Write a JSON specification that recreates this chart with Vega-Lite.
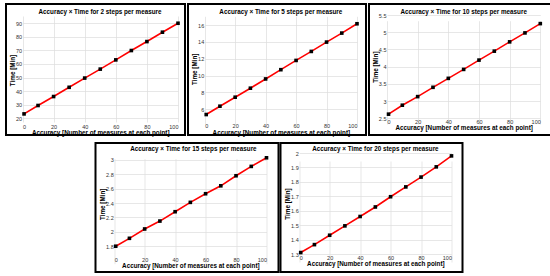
{
  "$schema": "https://vega.github.io/schema/vega-lite/v6.json",
  "padding": {"left": 5, "top": 3, "right": 0, "bottom": 0},
  "background": "white",
  "data": {"values": [
    {"panel": "a", "acc": 1, "time": 23.2}, {"panel": "a", "acc": 10, "time": 29.4}, {"panel": "a", "acc": 20, "time": 36.0}, {"panel": "a", "acc": 30, "time": 42.8}, {"panel": "a", "acc": 40, "time": 49.6}, {"panel": "a", "acc": 50, "time": 56.2}, {"panel": "a", "acc": 60, "time": 63.0}, {"panel": "a", "acc": 70, "time": 69.9}, {"panel": "a", "acc": 80, "time": 76.5}, {"panel": "a", "acc": 90, "time": 83.4}, {"panel": "a", "acc": 100, "time": 90.0},
    {"panel": "b", "acc": 1, "time": 5.37}, {"panel": "b", "acc": 10, "time": 6.36}, {"panel": "b", "acc": 20, "time": 7.43}, {"panel": "b", "acc": 30, "time": 8.5}, {"panel": "b", "acc": 40, "time": 9.6}, {"panel": "b", "acc": 50, "time": 10.7}, {"panel": "b", "acc": 60, "time": 11.8}, {"panel": "b", "acc": 70, "time": 12.87}, {"panel": "b", "acc": 80, "time": 13.98}, {"panel": "b", "acc": 90, "time": 15.05}, {"panel": "b", "acc": 100, "time": 16.16},
    {"panel": "c", "acc": 1, "time": 2.62}, {"panel": "c", "acc": 10, "time": 2.88}, {"panel": "c", "acc": 20, "time": 3.13}, {"panel": "c", "acc": 30, "time": 3.40}, {"panel": "c", "acc": 40, "time": 3.66}, {"panel": "c", "acc": 50, "time": 3.92}, {"panel": "c", "acc": 60, "time": 4.19}, {"panel": "c", "acc": 70, "time": 4.45}, {"panel": "c", "acc": 80, "time": 4.72}, {"panel": "c", "acc": 90, "time": 4.98}, {"panel": "c", "acc": 100, "time": 5.25},
    {"panel": "d", "acc": 1, "time": 1.80}, {"panel": "d", "acc": 10, "time": 1.91}, {"panel": "d", "acc": 20, "time": 2.04}, {"panel": "d", "acc": 30, "time": 2.15}, {"panel": "d", "acc": 40, "time": 2.28}, {"panel": "d", "acc": 50, "time": 2.41}, {"panel": "d", "acc": 60, "time": 2.53}, {"panel": "d", "acc": 70, "time": 2.64}, {"panel": "d", "acc": 80, "time": 2.78}, {"panel": "d", "acc": 90, "time": 2.91}, {"panel": "d", "acc": 100, "time": 3.03},
    {"panel": "e", "acc": 1, "time": 1.31}, {"panel": "e", "acc": 10, "time": 1.365}, {"panel": "e", "acc": 20, "time": 1.43}, {"panel": "e", "acc": 30, "time": 1.495}, {"panel": "e", "acc": 40, "time": 1.56}, {"panel": "e", "acc": 50, "time": 1.626}, {"panel": "e", "acc": 60, "time": 1.697}, {"panel": "e", "acc": 70, "time": 1.765}, {"panel": "e", "acc": 80, "time": 1.833}, {"panel": "e", "acc": 90, "time": 1.904}, {"panel": "e", "acc": 100, "time": 1.98}
  ]},
  "vconcat": [
    {
      "hconcat": [
        {
          "width": 179, "height": 131,
          "title": {"text": "Accuracy × Time for 2 steps per measure", "offset": -11, "dx": 4.5},
          "encoding": {
            "x": {"field": "acc", "type": "quantitative", "scale": {"domain": [0, 100], "range": [16.5, 172]}, "axis": {"values": [0, 20, 40, 60, 80, 100], "offset": -12, "title": "Accuracy [Number of measures at each point]"}},
            "y": {"field": "time", "type": "quantitative", "scale": {"domain": [16.5, 94.6], "range": [119, 13], "zero": false}, "axis": {"values": [20, 30, 40, 50, 60, 70, 80, 90], "offset": -16.5, "title": "Time [Min]"}}
          },
          "layer": [
            {"data": {"values": [{}]}, "mark": {"type": "rect", "fill": null, "stroke": "#a8a8a8", "strokeWidth": 0.8}, "encoding": {"x": {"datum": 0}, "x2": {"datum": 100}, "y": {"datum": 16.5}, "y2": {"datum": 94.6}}},
            {"transform": [{"filter": "datum.panel === 'a'"}], "mark": {"type": "line", "color": "#ff0000", "strokeWidth": 1.6}},
            {"transform": [{"filter": "datum.panel === 'a'"}], "mark": {"type": "square", "color": "black", "filled": true, "size": 13, "opacity": 1}},
            {"data": {"values": [{}]}, "mark": {"type": "text", "fontSize": 9, "fontWeight": "bold"}, "encoding": {"x": {"datum": 24}, "y": {"datum": 78.4}, "text": {"value": "(a)"}}}
          ]
        },
        {
          "width": 178, "height": 131,
          "title": {"text": "Accuracy × Time for 5 steps per measure", "offset": -11, "dx": 3.8},
          "encoding": {
            "x": {"field": "acc", "type": "quantitative", "scale": {"domain": [0, 100], "range": [16.7, 169]}, "axis": {"values": [0, 20, 40, 60, 80, 100], "offset": -12.3, "title": "Accuracy [Number of measures at each point]"}},
            "y": {"field": "time", "type": "quantitative", "scale": {"domain": [4.4, 17.2], "range": [118.7, 11], "zero": false}, "axis": {"values": [6, 8, 10, 12, 14, 16], "offset": -16.7, "title": "Time [Min]"}}
          },
          "layer": [
            {"data": {"values": [{}]}, "mark": {"type": "rect", "fill": null, "stroke": "#a8a8a8", "strokeWidth": 0.8}, "encoding": {"x": {"datum": 0}, "x2": {"datum": 100}, "y": {"datum": 4.4}, "y2": {"datum": 17.2}}},
            {"transform": [{"filter": "datum.panel === 'b'"}], "mark": {"type": "line", "color": "#ff0000", "strokeWidth": 1.6}},
            {"transform": [{"filter": "datum.panel === 'b'"}], "mark": {"type": "square", "color": "black", "filled": true, "size": 13, "opacity": 1}},
            {"data": {"values": [{}]}, "mark": {"type": "text", "fontSize": 9, "fontWeight": "bold"}, "encoding": {"x": {"datum": 23.4}, "y": {"datum": 14.3}, "text": {"value": "(b)"}}}
          ]
        },
        {
          "width": 183, "height": 131,
          "title": {"text": "Accuracy × Time for 10 steps per measure", "offset": -11, "dx": 3.2},
          "encoding": {
            "x": {"field": "acc", "type": "quantitative", "scale": {"domain": [0, 100], "range": [18, 171.3]}, "axis": {"values": [0, 20, 40, 60, 80, 100], "offset": -16.7, "title": "Accuracy [Number of measures at each point]"}},
            "y": {"field": "time", "type": "quantitative", "scale": {"domain": [2.5, 5.5], "range": [114.3, 11], "zero": false}, "axis": {"values": [2.5, 3, 3.5, 4, 4.5, 5, 5.5], "format": "~g", "offset": -18, "title": "Time [Min]"}}
          },
          "layer": [
            {"data": {"values": [{}]}, "mark": {"type": "rect", "fill": null, "stroke": "#a8a8a8", "strokeWidth": 0.8}, "encoding": {"x": {"datum": 0}, "x2": {"datum": 100}, "y": {"datum": 2.5}, "y2": {"datum": 5.5}}},
            {"transform": [{"filter": "datum.panel === 'c'"}], "mark": {"type": "line", "color": "#ff0000", "strokeWidth": 1.6}},
            {"transform": [{"filter": "datum.panel === 'c'"}], "mark": {"type": "square", "color": "black", "filled": true, "size": 13, "opacity": 1}},
            {"data": {"values": [{}]}, "mark": {"type": "text", "fontSize": 9, "fontWeight": "bold"}, "encoding": {"x": {"datum": 23.3}, "y": {"datum": 4.77}, "text": {"value": "(c)"}}}
          ]
        }
      ]
    },
    {
      "hconcat": [
        {
          "width": 183, "height": 129,
          "title": {"text": "Accuracy × Time for 15 steps per measure", "offset": -9, "dx": 6.4},
          "encoding": {
            "x": {"field": "acc", "type": "quantitative", "scale": {"domain": [0, 100], "range": [18.7, 171]}, "axis": {"values": [0, 20, 40, 60, 80, 100], "offset": -15.7, "title": "Accuracy [Number of measures at each point]"}},
            "y": {"field": "time", "type": "quantitative", "scale": {"domain": [1.66, 3.12], "range": [113.3, 8.3], "zero": false}, "axis": {"values": [1.8, 2, 2.2, 2.4, 2.6, 2.8, 3], "format": "~g", "offset": -18.7, "title": "Time [Min]"}}
          },
          "layer": [
            {"data": {"values": [{}]}, "mark": {"type": "rect", "fill": null, "stroke": "#a8a8a8", "strokeWidth": 0.8}, "encoding": {"x": {"datum": 0}, "x2": {"datum": 100}, "y": {"datum": 1.66}, "y2": {"datum": 3.12}}},
            {"transform": [{"filter": "datum.panel === 'd'"}], "mark": {"type": "line", "color": "#ff0000", "strokeWidth": 1.6}},
            {"transform": [{"filter": "datum.panel === 'd'"}], "mark": {"type": "square", "color": "black", "filled": true, "size": 13, "opacity": 1}},
            {"data": {"values": [{}]}, "mark": {"type": "text", "fontSize": 9, "fontWeight": "bold"}, "encoding": {"x": {"datum": 18.6}, "y": {"datum": 2.82}, "text": {"value": "(d)"}}}
          ]
        },
        {
          "width": 182, "height": 129,
          "title": {"text": "Accuracy × Time for 20 steps per measure", "offset": -9, "dx": 3.9},
          "encoding": {
            "x": {"field": "acc", "type": "quantitative", "scale": {"domain": [0, 100], "range": [18.7, 171]}, "axis": {"values": [0, 20, 40, 60, 80, 100], "offset": -18, "title": "Accuracy [Number of measures at each point]"}},
            "y": {"field": "time", "type": "quantitative", "scale": {"domain": [1.3, 2.0], "range": [111, 10], "zero": false}, "axis": {"values": [1.3, 1.4, 1.5, 1.6, 1.7, 1.8, 1.9, 2], "format": "~g", "offset": -18.7, "title": "Time [Min]"}}
          },
          "layer": [
            {"data": {"values": [{}]}, "mark": {"type": "rect", "fill": null, "stroke": "#a8a8a8", "strokeWidth": 0.8}, "encoding": {"x": {"datum": 0}, "x2": {"datum": 100}, "y": {"datum": 1.3}, "y2": {"datum": 2.0}}},
            {"transform": [{"filter": "datum.panel === 'e'"}], "mark": {"type": "line", "color": "#ff0000", "strokeWidth": 1.6}},
            {"transform": [{"filter": "datum.panel === 'e'"}], "mark": {"type": "square", "color": "black", "filled": true, "size": 13, "opacity": 1}},
            {"data": {"values": [{}]}, "mark": {"type": "text", "fontSize": 9, "fontWeight": "bold"}, "encoding": {"x": {"datum": 27.3}, "y": {"datum": 1.86}, "text": {"value": "(e)"}}}
          ]
        }
      ],
      "spacing": 0
    }
  ],
  "spacing": 5,
  "center": true,
  "config": {
    "font": "Liberation Sans",
    "concat": {"spacing": 1},
    "view": {"stroke": "black", "strokeWidth": 2},
    "axis": {"grid": true, "gridColor": "#dcdcdc", "gridWidth": 0.7, "domain": false, "ticks": false, "labelFontSize": 5.5, "labelColor": "#333333", "labelPadding": 1, "titleFontSize": 6.3, "titleFontWeight": "bold", "titleColor": "black", "titlePadding": 0},
    "title": {"fontSize": 6.3, "fontWeight": "bold", "color": "black", "anchor": "middle"}
  }
}
